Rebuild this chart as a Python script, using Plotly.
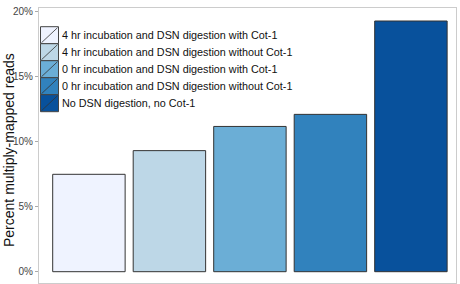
import plotly.graph_objects as go

categories = [
    "4 hr incubation and DSN digestion with Cot-1",
    "4 hr incubation and DSN digestion without Cot-1",
    "0 hr incubation and DSN digestion with Cot-1",
    "0 hr incubation and DSN digestion without Cot-1",
    "No DSN digestion, no Cot-1",
]
values = [7.49, 9.31, 11.17, 12.1, 19.28]
colors = ["#eff3ff", "#bdd7e7", "#6baed6", "#3182bd", "#08519c"]
tick_vals = [0, 5, 10, 15, 20]
tick_text = ["0%", "5%", "10%", "15%", "20%"]
y_title = "Percent multiply-mapped reads"

W, H = 460, 284
ML, MR, MT, MB = 39, 4, 8, 1
PW, PH = W - ML - MR, H - MT - MB
FONT = "Liberation Sans, Arial, sans-serif"

fig = go.Figure()
fig.add_trace(go.Bar(
    x=list(range(len(categories))), y=values,
    marker=dict(color=colors, line=dict(color="#333333", width=1)),
    showlegend=False, hoverinfo="skip",
))

def px_x(p):
    return (p - ML) / PW

def px_y(p):
    return (H - MB - p) / PH

shapes = []
annotations = []
box_left, box_right = 40.5, 58.5
box_top0, box_h = 26.7, 17.0
for i, (name, col) in enumerate(zip(categories, colors)):
    top = box_top0 + i * box_h
    bot = top + box_h
    shapes.append(dict(type="rect", xref="paper", yref="paper",
                       x0=px_x(box_left), x1=px_x(box_right),
                       y0=px_y(bot), y1=px_y(top),
                       fillcolor=col, line=dict(color="#444444", width=1)))
    shapes.append(dict(type="line", xref="paper", yref="paper",
                       x0=px_x(box_left + 1), x1=px_x(box_right - 1),
                       y0=px_y(bot - 1), y1=px_y(top + 1),
                       line=dict(color="#333333", width=0.8)))
    annotations.append(dict(text=name, xref="paper", yref="paper",
                            x=px_x(60), y=px_y((top + bot) / 2),
                            xanchor="left", yanchor="middle", showarrow=False,
                            font=dict(size=10.8, color="#111111", family=FONT)))

annotations.append(dict(text=y_title, xref="paper", yref="paper",
                        x=px_x(9), y=px_y(150), textangle=-90,
                        xanchor="center", yanchor="middle", showarrow=False,
                        font=dict(size=14, color="#111111", family=FONT)))

fig.update_layout(
    width=W, height=H,
    margin=dict(l=ML, r=MR, t=MT, b=MB, pad=0),
    paper_bgcolor="white", plot_bgcolor="white",
    bargap=0.1,
    font=dict(family=FONT, color="#333333"),
    shapes=shapes, annotations=annotations,
    xaxis=dict(range=[-0.62, 4.56], showticklabels=False, ticks="",
               showgrid=False, zeroline=False, showline=True, mirror=True,
               linecolor="#cccccc", linewidth=1),
    yaxis=dict(range=[-0.87, 20.28], tickvals=tick_vals, ticktext=tick_text,
               ticks="outside", ticklen=3, tickcolor="#aaaaaa",
               tickfont=dict(size=10, color="#444444"),
               showgrid=False, zeroline=False, showline=True, mirror=True,
               linecolor="#cccccc", linewidth=1),
)

fig.write_html("out.html")
